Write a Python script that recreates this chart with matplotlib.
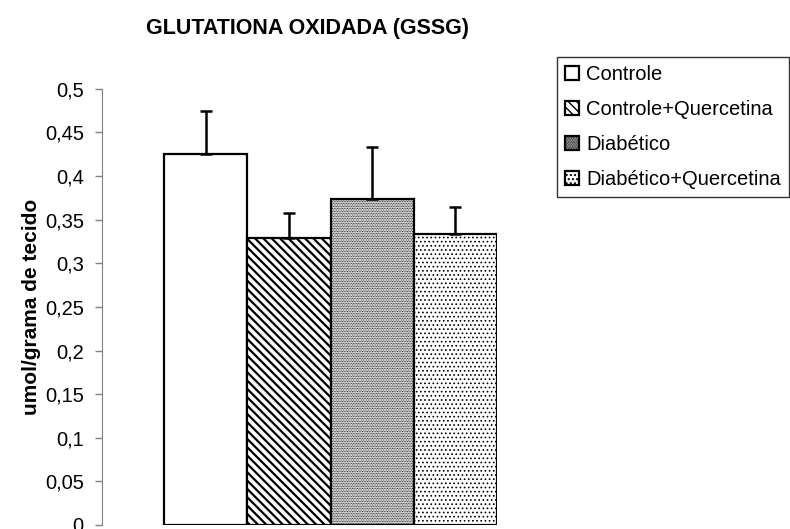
import matplotlib.pyplot as plt
import matplotlib.ticker as mticker

# Dados
grupos = ['Controle', 'Controle+Quercetina', 'Diabético', 'Diabético+Quercetina']
medias = [0.425, 0.329, 0.374, 0.334]
desvios = [0.050, 0.029, 0.059, 0.031]
padroes = ['', '\\\\\\\\', '..........', '....']
espessura_hachura = [1.0, 1.6, 0.6, 0.7]

plt.rcParams['font.family'] = ['Liberation Sans', 'DejaVu Sans']

fig = plt.figure(figsize=(7.9, 5.29), dpi=100)
ax = fig.add_axes([0.129, 0.0076, 0.5, 0.8244])

x = list(range(len(grupos)))
barras = []
for xi, m, padrao, lw in zip(x, medias, padroes, espessura_hachura):
    with plt.rc_context({'hatch.linewidth': lw}):
        b = ax.bar(xi, m, width=1.0, color='white', edgecolor='black',
                   linewidth=1.6, hatch=padrao)
    barras.append(b[0])

# Barras de erro só para cima
ax.errorbar(x, medias, yerr=[[0] * len(medias), desvios], fmt='none',
            ecolor='black', elinewidth=1.8, capsize=4.5, capthick=1.8)

ax.set_xlim(-1.25, 3.5)
ax.set_ylim(0, 0.5)
ax.yaxis.set_major_locator(mticker.MultipleLocator(0.05))
ax.yaxis.set_major_formatter(mticker.FuncFormatter(
    lambda v, p: ('%.2f' % v).rstrip('0').rstrip('.').replace('.', ',') if v else '0'))
ax.tick_params(axis='y', colors='#808080', labelcolor='black', labelsize=14.5,
               length=5, width=1, pad=8)
ax.set_xticks([])
for lado in ['top', 'right', 'bottom']:
    ax.spines[lado].set_visible(False)
ax.spines['left'].set_color('#808080')

ax.set_ylabel('umol/grama de tecido', fontsize=15, fontweight='bold', labelpad=3)
fig.text(0.389, 0.947, 'GLUTATIONA OXIDADA (GSSG)', ha='center', va='center',
         fontsize=15.5, fontweight='bold')

leg = fig.legend(barras, grupos, loc='upper left',
                 bbox_to_anchor=(557 / 790, 1 - 57 / 529), fontsize=14.5,
                 frameon=True, fancybox=False, edgecolor='black',
                 handlelength=0.7, handleheight=0.7, handletextpad=0.35,
                 labelspacing=0.8, borderpad=0.4, borderaxespad=0)
leg.get_frame().set_linewidth(1.0)

fig.savefig('out.png', dpi=100)
